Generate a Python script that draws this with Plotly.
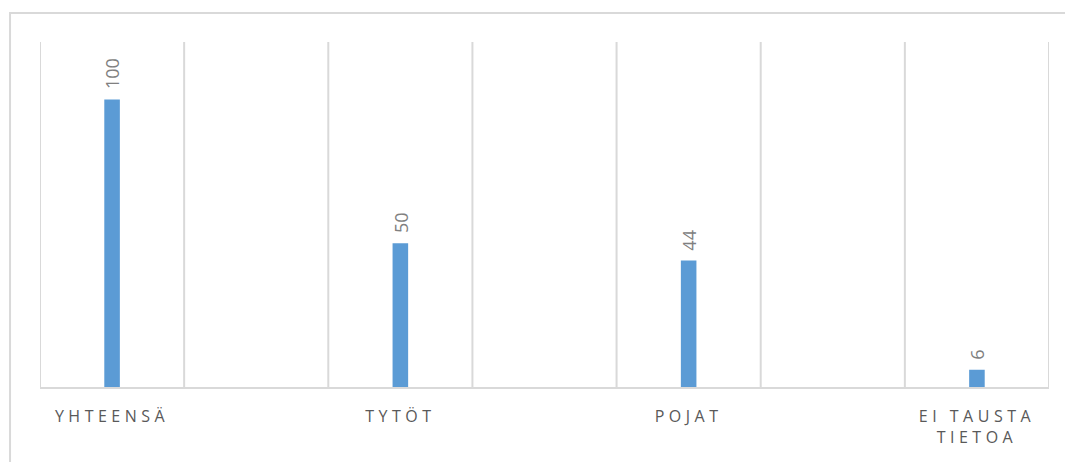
import plotly.graph_objects as go

categories = ["YHTEENSÄ", "TYTÖT", "POJAT", "EI TAUSTA<br>TIETOA"]
values = [100, 50, 44, 6]
positions = list(range(len(categories)))
grid_positions = [-0.25 + 0.5 * k for k in range(8)]

bar_color = "#5B9BD5"
grid_color = "#D9D9D9"

tick_text = [
    "<br>".join('<span style="letter-spacing:4.5px">%s</span>' % part for part in c.split("<br>"))
    for c in categories
]

fig = go.Figure()
fig.add_trace(go.Bar(
    x=positions, y=values, width=0.054,
    marker=dict(color=bar_color, line=dict(width=0)),
    hoverinfo="skip",
))

for gx in grid_positions:
    fig.add_shape(type="line", xref="x", yref="paper", x0=gx, x1=gx, y0=0, y1=1,
                  line=dict(color=grid_color, width=2), layer="below")

for xv, yv in zip(positions, values):
    fig.add_annotation(
        x=xv, y=yv, text=str(yv), textangle=-90,
        showarrow=False, yanchor="bottom", xanchor="center", yshift=8,
        font=dict(family="Open Sans, sans-serif", size=18, color="#808080"),
    )

fig.add_shape(type="rect", xref="paper", yref="paper",
              x0=-0.0297, x1=1.05, y0=-0.3, y1=1.084,
              line=dict(color=grid_color, width=2), fillcolor="rgba(0,0,0,0)", layer="below")

fig.update_layout(
    width=1065, height=462,
    margin=dict(l=40, r=16, t=42, b=75),
    paper_bgcolor="white", plot_bgcolor="white",
    showlegend=False,
    xaxis=dict(
        range=[-0.25, 3.25], tickvals=positions, ticktext=tick_text,
        showgrid=False, zeroline=False, showline=True, linecolor=grid_color, linewidth=2,
        ticks="", ticklabelstandoff=14,
        tickfont=dict(family="Open Sans, sans-serif", size=16, color="#595959"),
        fixedrange=True,
    ),
    yaxis=dict(range=[0, 120], showgrid=False, zeroline=False, showticklabels=False,
               showline=False, ticks="", fixedrange=True),
)

fig.write_html("out.html", config={"displayModeBar": False},
               post_script="document.body.style.margin='0';")
